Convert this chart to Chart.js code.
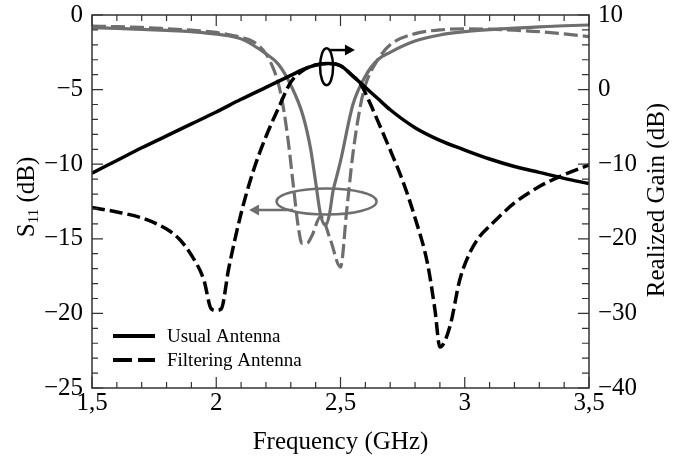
<!DOCTYPE html>
<html>
<head>
<meta charset="utf-8">
<style>
  body { margin: 0; background: #fff; overflow: hidden; }
  canvas { display: block; }
</style>
</head>
<body>
<canvas id="myChart" width="687" height="463"></canvas>

<script src="https://cdn.jsdelivr.net/npm/chart.js"></script>
<script>
  // S11 (left axis, grey)
  const freqUsualS11 = [1.5, 1.6, 1.7, 1.8, 1.9, 2.0, 2.1, 2.2, 2.25, 2.3, 2.35, 2.38, 2.4, 2.42, 2.44, 2.455, 2.47, 2.485, 2.5, 2.55, 2.6, 2.65, 2.7, 2.8, 2.9, 3.0, 3.1, 3.2, 3.3, 3.4, 3.5];
  const usualS11 = [-0.85, -0.9, -0.96, -1.03, -1.12, -1.28, -1.6, -2.6, -3.3, -4.7, -6.8, -9.0, -11.2, -13.4, -14.1, -13.4, -11.8, -10.8, -9.8, -6.0, -4.1, -3.0, -2.5, -1.75, -1.34, -1.12, -0.98, -0.88, -0.8, -0.72, -0.67];

  const freqFilterS11 = [1.5, 1.6, 1.7, 1.8, 1.9, 2.0, 2.1, 2.15, 2.2, 2.23, 2.25, 2.27, 2.29, 2.31, 2.33, 2.345, 2.365, 2.385, 2.42, 2.46, 2.5, 2.525, 2.55, 2.58, 2.6, 2.65, 2.7, 2.8, 2.9, 3.0, 3.1, 3.2, 3.3, 3.4, 3.5];
  const filterS11 = [-0.75, -0.78, -0.83, -0.92, -1.02, -1.17, -1.5, -1.8, -2.6, -3.6, -4.6, -6.2, -8.5, -11.4, -14.2, -15.3, -15.3, -14.8, -13.5, -15.1, -16.9, -13.1, -9.3, -6.1, -4.7, -3.0, -2.0, -1.25, -1.0, -0.92, -0.95, -1.02, -1.12, -1.27, -1.45];

  // Realized gain (right axis, black)
  const freqUsualGain = [1.5, 1.6, 1.7, 1.8, 1.9, 2.0, 2.1, 2.2, 2.3, 2.35, 2.4, 2.45, 2.5, 2.55, 2.6, 2.65, 2.7, 2.8, 2.9, 3.0, 3.1, 3.2, 3.3, 3.4, 3.5];
  const usualGain = [-11.2, -9.5, -7.8, -6.2, -4.6, -3.0, -1.3, 0.3, 1.9, 2.7, 3.3, 3.5, 3.2, 1.8, 0.3, -1.2, -2.7, -5.1, -6.8, -8.1, -9.3, -10.3, -11.1, -11.9, -12.6];

  const freqFilterGain = [1.5, 1.6, 1.7, 1.8, 1.85, 1.9, 1.95, 1.98, 2.0, 2.02, 2.05, 2.1, 2.15, 2.2, 2.25, 2.3, 2.35, 2.4, 2.45, 2.5, 2.55, 2.58, 2.62, 2.65, 2.7, 2.75, 2.8, 2.85, 2.88, 2.9, 2.94, 2.98, 3.02, 3.06, 3.1, 3.2, 3.3, 3.4, 3.5];
  const filterGain = [-15.8, -16.4, -17.2, -18.7, -20.0, -22.2, -25.5, -29.4, -29.6, -29.4, -24.0, -16.6, -10.8, -6.3, -2.5, 1.0, 2.6, 3.3, 3.5, 3.2, 1.8, 0.8, -1.9, -4.2, -8.1, -12.2, -17.2, -23.3, -29.5, -34.5, -31.8, -25.5, -21.9, -19.7, -18.3, -15.2, -13.0, -11.4, -10.1];

  const xTicks = [1.5, 2, 2.5, 3, 3.5];
  const legendLabels = ['Usual Antenna', 'Filtering Antenna'];

  const grey = '#6e6e6e';
  const axisColor = '#333';
  const serif = '"Liberation Serif", "Times New Roman", serif';

  const toPoints = (xs, ys) => xs.map((x, i) => ({ x: x, y: ys[i] }));
  const fmt = v => (v < 0 ? '\u2212' + Math.abs(v) : String(v)).replace('.', ',');

  // fixed plot box: top 15 px, side widths set per axis
  const fitY = w => s => { s.width = w; s.paddingTop = 15; s.paddingBottom = 0; };

  // ticks, frame, titles, legend and the two ellipse markers
  const decorPlugin = {
    id: 'decor',
    afterDatasetsDraw(chart) {
      const ctx = chart.ctx;
      const a = chart.chartArea;
      const sx = chart.scales.x, sy = chart.scales.y, sy2 = chart.scales.y2;

      ctx.save();
      ctx.strokeStyle = axisColor;
      ctx.lineWidth = 1.5;
      ctx.strokeRect(a.left, a.top, a.right - a.left, a.bottom - a.top);

      ctx.lineWidth = 1.2;
      ctx.beginPath();
      for (let i = 15; i <= 35; i++) {
        const px = sx.getPixelForValue(i / 10);
        const len = i % 5 === 0 ? 11 : 6;
        ctx.moveTo(px, a.bottom); ctx.lineTo(px, a.bottom - len);
        ctx.moveTo(px, a.top); ctx.lineTo(px, a.top + len);
      }
      for (let v = -25; v <= 0; v++) {
        const py = sy.getPixelForValue(v);
        const len = v % 5 === 0 ? 11 : 6;
        ctx.moveTo(a.left, py); ctx.lineTo(a.left + len, py);
      }
      for (let v = -40; v <= 10; v += 2) {
        const py = sy2.getPixelForValue(v);
        const len = v % 10 === 0 ? 11 : 7;
        ctx.moveTo(a.right, py); ctx.lineTo(a.right - len, py);
      }
      ctx.stroke();

      // black ellipse + arrow -> right axis
      const ex = sx.getPixelForValue(2.444), ey = sy2.getPixelForValue(3.07);
      ctx.strokeStyle = '#000'; ctx.fillStyle = '#000'; ctx.lineWidth = 2.5;
      ctx.beginPath(); ctx.ellipse(ex, ey, 6.5, 18.5, 0, 0, Math.PI * 2); ctx.stroke();
      const ay = sy2.getPixelForValue(5.3);
      const ax0 = sx.getPixelForValue(2.458), ax1 = sx.getPixelForValue(2.558);
      ctx.beginPath(); ctx.moveTo(ax0, ay); ctx.lineTo(ax1 - 8, ay); ctx.stroke();
      ctx.beginPath(); ctx.moveTo(ax1, ay); ctx.lineTo(ax1 - 10, ay - 5.5); ctx.lineTo(ax1 - 10, ay + 5.5); ctx.closePath(); ctx.fill();

      // grey ellipse + arrow -> left axis
      const gx = sx.getPixelForValue(2.444), gy = sy.getPixelForValue(-12.5);
      ctx.strokeStyle = grey; ctx.fillStyle = grey;
      ctx.beginPath(); ctx.ellipse(gx, gy, 50, 13, 0, 0, Math.PI * 2); ctx.stroke();
      const by = sy.getPixelForValue(-13.07);
      const bx0 = sx.getPixelForValue(2.309), bx1 = sx.getPixelForValue(2.132);
      ctx.beginPath(); ctx.moveTo(bx0, by); ctx.lineTo(bx1 + 8, by); ctx.stroke();
      ctx.beginPath(); ctx.moveTo(bx1, by); ctx.lineTo(bx1 + 10, by - 5.5); ctx.lineTo(bx1 + 10, by + 5.5); ctx.closePath(); ctx.fill();

      // legend
      ctx.strokeStyle = '#000'; ctx.fillStyle = '#000'; ctx.lineWidth = 4;
      ctx.font = '19px ' + serif;
      ctx.textBaseline = 'middle'; ctx.textAlign = 'left';
      const dashes = [[], [19, 6]];
      legendLabels.forEach((lbl, i) => {
        const ly = 336 + i * 24;
        ctx.setLineDash(dashes[i]);
        ctx.beginPath(); ctx.moveTo(113, ly); ctx.lineTo(155, ly); ctx.stroke();
        ctx.fillText(lbl, 167, ly + 1);
      });
      ctx.setLineDash([]);

      // axis titles
      ctx.font = '25px ' + serif;
      ctx.textAlign = 'center'; ctx.textBaseline = 'middle';
      ctx.fillText('Frequency (GHz)', (a.left + a.right) / 2, 442);

      ctx.save();
      ctx.translate(657, 200);
      ctx.rotate(-Math.PI / 2);
      ctx.fillText('Realized Gain (dB)', 0, 0);
      ctx.restore();

      ctx.save();
      ctx.translate(26, 197);
      ctx.rotate(-Math.PI / 2);
      ctx.textAlign = 'left'; ctx.textBaseline = 'alphabetic';
      ctx.font = '25px ' + serif;
      const wS = ctx.measureText('S').width;
      const wRest = ctx.measureText(' (dB)').width;
      ctx.font = '15px ' + serif;
      const wSub = ctx.measureText('11').width;
      let x0 = -(wS + wSub + wRest) / 2;
      ctx.font = '25px ' + serif;
      ctx.fillText('S', x0, 8);
      ctx.font = '15px ' + serif;
      ctx.fillText('11', x0 + wS, 12);
      ctx.font = '25px ' + serif;
      ctx.fillText(' (dB)', x0 + wS + wSub, 8);
      ctx.restore();

      ctx.restore();
    }
  };

  new Chart(document.getElementById('myChart').getContext('2d'), {
    type: 'line',
    data: {
      datasets: [
        { data: toPoints(freqUsualGain, usualGain), yAxisID: 'y2', borderColor: '#000', borderWidth: 3.5 },
        { data: toPoints(freqFilterGain, filterGain), yAxisID: 'y2', borderColor: '#000', borderWidth: 3.5, borderDash: [13, 5] },
        { data: toPoints(freqUsualS11, usualS11), yAxisID: 'y', borderColor: grey, borderWidth: 3.2 },
        { data: toPoints(freqFilterS11, filterS11), yAxisID: 'y', borderColor: grey, borderWidth: 3.2, borderDash: [14, 5] }
      ]
    },
    options: {
      responsive: false,
      animation: false,
      layout: { padding: 0 },
      elements: {
        point: { radius: 0 },
        line: { cubicInterpolationMode: 'monotone', fill: false }
      },
      plugins: { legend: { display: false }, tooltip: { enabled: false } },
      scales: {
        x: {
          type: 'linear', position: 'bottom', min: 1.5, max: 3.5,
          afterBuildTicks: s => { s.ticks = xTicks.map(v => ({ value: v })); },
          afterFit: s => { s.height = 75; s.paddingLeft = 0; s.paddingRight = 0; },
          ticks: { callback: v => fmt(v), color: '#000', font: { family: serif, size: 25 }, padding: 0, maxRotation: 0 },
          grid: { display: false, drawTicks: false },
          border: { display: false }
        },
        y: {
          position: 'left', min: -25, max: 0,
          afterFit: fitY(92),
          ticks: { stepSize: 5, callback: v => fmt(v), color: '#000', font: { family: serif, size: 25 }, padding: 9 },
          grid: { display: false, drawTicks: false },
          border: { display: false }
        },
        y2: {
          position: 'right', min: -40, max: 10,
          afterFit: fitY(98),
          ticks: { stepSize: 10, callback: v => fmt(v), color: '#000', font: { family: serif, size: 25 }, padding: 9 },
          grid: { display: false, drawTicks: false },
          border: { display: false }
        }
      }
    },
    plugins: [decorPlugin]
  });
</script>
</body>
</html>
